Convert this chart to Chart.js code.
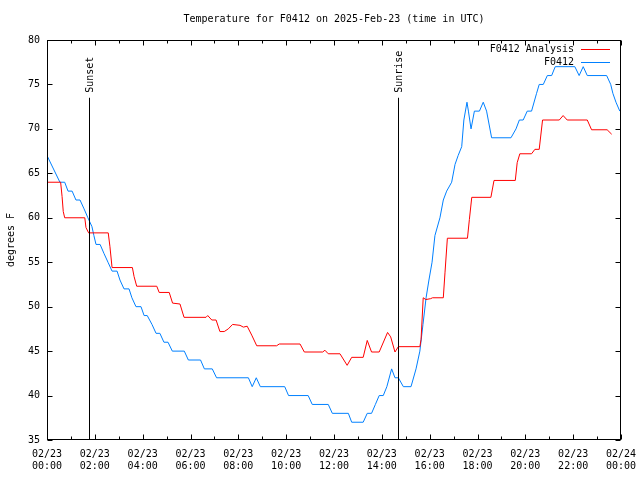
<!DOCTYPE html>
<html><head><meta charset="utf-8">
<script src="https://cdn.jsdelivr.net/npm/chart.js@4/dist/chart.umd.min.js"></script>
<style>html,body{margin:0;padding:0;background:#fff}canvas{display:block}</style>
</head><body>
<canvas id="c" width="640" height="480" style="width:640px;height:480px"></canvas>
<script>
// ---- data (hours since 02/23 00:00 UTC, degrees F) ----
const obsHours = [0.00,0.54,0.74,0.88,1.05,1.21,1.38,1.55,1.71,1.88,1.96,2.05,2.22,2.38,2.55,2.72,2.93,3.05,3.22,3.43,
  3.55,3.72,3.93,4.06,4.19,4.39,4.56,4.72,4.89,5.06,5.24,5.74,5.91,6.42,6.58,6.91,7.09,8.42,8.58,8.75,
  8.92,9.94,10.10,10.92,11.09,11.76,11.93,12.60,12.74,13.22,13.39,13.57,13.73,13.89,14.06,14.21,14.41,14.55,14.69,14.90,
  15.22,15.43,15.59,15.72,15.85,15.97,16.10,16.22,16.43,16.57,16.71,16.92,17.06,17.19,17.34,17.43,17.56,17.62,17.73,17.87,
  18.08,18.24,18.38,18.59,19.40,19.61,19.75,19.91,20.08,20.26,20.47,20.58,20.75,20.92,21.10,21.25,22.07,22.25,22.42,22.59,
  23.40,23.57,23.66,23.79,23.95];
const obsTemps = [67,64,64,63,63,62,62,61,60,59,58,57,57,56,55,54,54,53,52,52,
  51,50,50,49,49,48,47,47,46,46,45,45,44,44,43,43,42,42,41,42,
  41,41,40,40,39,39,38,38,37,37,38,38,39,40,40,41,43,42,42,41,
  41,43,45,48,51,53,55,58,60,62,63,64,66,67,68,71,73,72,70,72,
  72,73,72,69,69,70,71,71,72,72,74,75,75,76,76,77,77,76,77,76,
  76,75,74,73,72];
const anaHours = [0,0.57,0.63,0.68,0.74,1.58,1.63,1.74,2.56,2.63,2.72,3.57,3.64,3.75,4.59,4.69,5.11,5.25,5.56,5.73,
  6.65,6.72,6.89,7.07,7.23,7.41,7.58,7.76,8.07,8.21,8.37,8.56,8.77,9.60,9.71,10.58,10.76,11.53,11.62,11.76,
  12.25,12.55,12.74,13.22,13.39,13.57,13.89,14.24,14.37,14.55,14.69,15.59,15.64,15.73,15.84,16.04,16.12,16.57,16.64,16.74,
  17.58,17.66,17.76,18.56,18.69,19.58,19.66,19.77,20.26,20.40,20.58,20.72,21.42,21.58,21.75,22.59,22.77,23.42,23.61];
const anaTemps = [64,64,62.4,60.7,60.0,60.0,58.9,58.3,58.3,56.8,54.4,54.4,53.4,52.3,52.3,51.6,51.6,50.4,50.3,48.8,
  48.8,49.0,48.5,48.5,47.2,47.2,47.5,48.0,47.9,47.7,47.8,46.8,45.6,45.6,45.8,45.8,44.9,44.9,45.1,44.7,
  44.7,43.4,44.3,44.3,46.2,44.9,44.9,47.1,46.6,44.9,45.5,45.5,46.3,51.0,50.8,50.9,51.0,51.0,53.8,57.7,
  57.7,59.8,62.3,62.3,64.2,64.2,66.2,67.2,67.2,67.7,67.7,71.0,71.0,71.5,71.0,71.0,69.9,69.9,69.4];
const xTickDates = ['02/23','02/23','02/23','02/23','02/23','02/23','02/23','02/23','02/23','02/23','02/23','02/23','02/24'];
const xTickTimes = ['00:00','02:00','04:00','06:00','08:00','10:00','12:00','14:00','16:00','18:00','20:00','22:00','00:00'];
const sunMarkers = [{label:'Sunset', hour:1.77}, {label:'Sunrise', hour:14.69}];
const markerTop = 73.5;
const seriesNames = ['F0412 Analysis','F0412'];
const titleText = 'Temperature for F0412 on 2025-Feb-23 (time in UTC)';
const yTitle = 'degrees F';

const FAM = '"DejaVu Sans Mono", monospace';
const FONT = '10px ' + FAM;
const RED = '#ff0000', BLUE = '#0080ff';

const gp = {
  id: 'gp',
  beforeDraw(chart) {
    const ctx = chart.ctx;
    ctx.save(); ctx.fillStyle = '#fff'; ctx.fillRect(0, 0, chart.width, chart.height); ctx.restore();
  },
  afterDraw(chart) {
    const ctx = chart.ctx, a = chart.chartArea, xs = chart.scales.x, ys = chart.scales.y;
    ctx.save();
    ctx.strokeStyle = '#000'; ctx.lineWidth = 1;
    const L = Math.round(a.left) + 0.5, R = Math.round(a.right) - 0.5;
    const T = Math.round(a.top) + 0.5, B = Math.round(a.bottom) - 0.5;
    ctx.strokeRect(L, T, R - L, B - T);
    ctx.beginPath();
    for (let h = 0; h <= 24; h++) {
      const px = Math.round(xs.getPixelForValue(h)) + 0.5;
      const len = (h % 2 === 0) ? 5 : 3;
      ctx.moveTo(px, B); ctx.lineTo(px, B - len);
      ctx.moveTo(px, T); ctx.lineTo(px, T + len);
    }
    for (let v = 35; v <= 80; v += 5) {
      const py = Math.round(ys.getPixelForValue(v)) + 0.5;
      ctx.moveTo(L, py); ctx.lineTo(L + 5, py);
      ctx.moveTo(R, py); ctx.lineTo(R - 5, py);
    }
    ctx.stroke();
    ctx.font = FONT; ctx.fillStyle = '#000';
    sunMarkers.forEach(m => {
      const px = Math.round(xs.getPixelForValue(m.hour)) + 0.5;
      const top = ys.getPixelForValue(markerTop);
      ctx.beginPath(); ctx.moveTo(px, B); ctx.lineTo(px, top); ctx.stroke();
      ctx.save();
      ctx.translate(px + 1, top - 5);
      ctx.rotate(-Math.PI / 2);
      ctx.textAlign = 'left'; ctx.textBaseline = 'middle';
      ctx.fillText(m.label, 0, 0);
      ctx.restore();
    });
    ctx.textAlign = 'right'; ctx.textBaseline = 'middle';
    const lg = [[seriesNames[0], RED, 49.5], [seriesNames[1], BLUE, 62.5]];
    lg.forEach(([t, c, y]) => {
      ctx.fillStyle = '#000'; ctx.fillText(t, 574, y);
      ctx.strokeStyle = c; ctx.beginPath(); ctx.moveTo(581, y); ctx.lineTo(610, y); ctx.stroke();
    });
    ctx.fillStyle = '#000'; ctx.textAlign = 'center'; ctx.textBaseline = 'middle';
    ctx.fillText(titleText, (a.left + a.right) / 2, 19);
    ctx.save();
    ctx.translate(11, (a.top + a.bottom) / 2);
    ctx.rotate(-Math.PI / 2);
    ctx.fillText(yTitle, 0, 0);
    ctx.restore();
    ctx.restore();
  }
};

new Chart(document.getElementById('c'), {
  type: 'line',
  data: {
    datasets: [
      { label: seriesNames[0], data: anaHours.map((h, i) => ({x: h, y: anaTemps[i]})),
        borderColor: RED, borderWidth: 1, pointRadius: 0, tension: 0, fill: false },
      { label: seriesNames[1], data: obsHours.map((h, i) => ({x: h, y: obsTemps[i]})),
        borderColor: BLUE, borderWidth: 1, pointRadius: 0, tension: 0, fill: false }
    ]
  },
  options: {
    responsive: false, animation: false, devicePixelRatio: 1,
    layout: { padding: { top: 40, right: 19, left: 0, bottom: 0 } },
    plugins: { legend: { display: false }, title: { display: false }, tooltip: { enabled: false } },
    scales: {
      x: {
        type: 'linear', min: 0, max: 24,
        afterFit: s => { s.height = 40; s.paddingLeft = 0; s.paddingRight = 0; },
        grid: { display: false, drawTicks: false }, border: { display: false },
        ticks: { stepSize: 2, autoSkip: false, maxRotation: 0, minRotation: 0, padding: 8,
          color: '#000', font: { family: FAM, size: 10, lineHeight: 1.2 },
          callback: v => { const i = Math.round(v / 2); return [xTickDates[i], xTickTimes[i]]; } }
      },
      y: {
        type: 'linear', min: 35, max: 80,
        afterFit: s => { s.width = 47; s.paddingTop = 0; s.paddingBottom = 0; },
        grid: { display: false, drawTicks: false }, border: { display: false },
        ticks: { stepSize: 5, padding: 7, color: '#000', font: { family: FAM, size: 10 } }
      }
    }
  },
  plugins: [gp]
});
</script>
</body></html>
